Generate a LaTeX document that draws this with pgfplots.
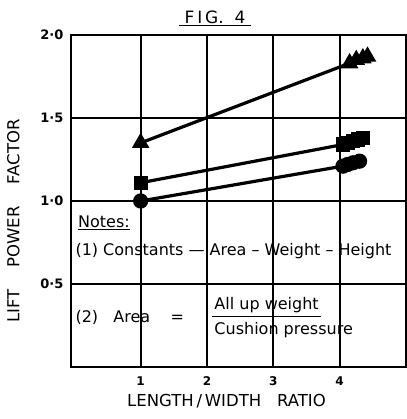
\documentclass[border=0pt]{standalone}
\usepackage{pgfplots}
\pgfplotsset{compat=1.18}
\usepackage{fontspec}
\setmainfont{DejaVu Sans}
\begin{document}
\begin{tikzpicture}
\begin{axis}[
  scale only axis, width=335pt, height=332pt,
  xmin=-0.05, xmax=5, ymin=0, ymax=2,
  xtick={1,2,3,4}, xticklabels={}, ytick={0.5,1,1.5,2},
  yticklabels={0·5,1·0,1·5,2·0},
  grid=major, grid style={black, line width=1.8pt},
  axis line style={line width=1.8pt},
  tick style={draw=none},
  yticklabel style={font=\fontsize{13}{15}\selectfont\bfseries, xshift=-4pt},
  xlabel={LENGTH\,/\,WIDTH\ \ \ RATIO}, ylabel={LIFT\quad\ POWER\quad\ FACTOR},
  label style={font=\fontsize{16.5}{19}\selectfont},
  xlabel style={yshift=-17pt, xshift=-12pt},
  ylabel style={at={(ticklabel cs:0.44)}, yshift=14pt},
  title={\underline{\ F\,I\,G.\ \ 4\ }}, title style={font=\fontsize{17}{20}\selectfont, at={(0.43,1)}, yshift=0pt},
  /pgf/number format/assume math mode=true,
  clip=false,
]
\addplot[black, line width=3.2pt, mark=triangle*, mark size=7pt] coordinates {(1,1.35) (4.15,1.83) (4.25,1.85) (4.35,1.86) (4.42,1.87)};
\addplot[black, line width=3.2pt, mark=square*, mark size=5.5pt] coordinates {(1,1.11) (4.05,1.34) (4.12,1.35) (4.2,1.36) (4.28,1.37) (4.35,1.38)};
\addplot[black, line width=3.2pt, mark=*, mark size=6pt] coordinates {(1,1.0) (4.05,1.21) (4.12,1.22) (4.2,1.23) (4.3,1.24)};
\node[anchor=north, font=\fontsize{12}{14}\selectfont\bfseries] at ([yshift=-6pt]axis cs:1,0) {1};
\node[anchor=north, font=\fontsize{12}{14}\selectfont\bfseries] at ([yshift=-6pt]axis cs:2,0) {2};
\node[anchor=north, font=\fontsize{12}{14}\selectfont\bfseries] at ([yshift=-6pt]axis cs:3,0) {3};
\node[anchor=north, font=\fontsize{12}{14}\selectfont\bfseries] at ([yshift=-6pt]axis cs:4,0) {4};
\node[anchor=west, font=\fontsize{16}{18}\selectfont, fill=white, inner sep=1pt] at (axis cs:0.04,0.87) {\underline{Notes:}};
\node[anchor=west, font=\fontsize{16}{18}\selectfont, inner sep=1pt] at (axis cs:0.0,0.70) {(1) Constants --- Area -- Weight -- Height};
\node[anchor=west, font=\fontsize{16}{18}\selectfont, inner sep=1pt] at (axis cs:0.0,0.30) {(2)\ \ \ Area\ \ \ \ =};
\node[anchor=south west, font=\fontsize{16}{18}\selectfont, inner sep=2pt] (n1) at (axis cs:2.08,0.315) {All up weight};
\node[anchor=north west, font=\fontsize{16}{18}\selectfont, inner sep=2pt] at (axis cs:2.08,0.285) {Cushion pressure};
\draw[line width=1.4pt] ([yshift=-2pt]n1.south west) -- ([yshift=-2pt]n1.south east);
\end{axis}
\path[use as bounding box] (-71pt,-52pt) rectangle (335pt,367pt);
\end{tikzpicture}
\end{document}
